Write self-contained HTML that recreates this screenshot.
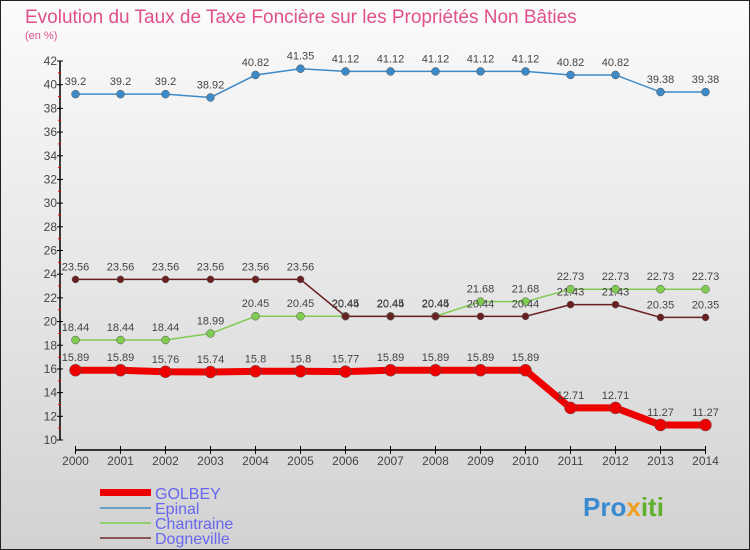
<!DOCTYPE html>
<html><head><meta charset="utf-8"><style>
body{margin:0}
svg{display:block;font-family:"Liberation Sans",sans-serif}
</style></head><body>
<svg width="750" height="550" viewBox="0 0 750 550">
<defs><linearGradient id="bg" x1="0" y1="0" x2="0" y2="1"><stop offset="0" stop-color="#fbfbfb"/><stop offset="1" stop-color="#d2d2d2"/></linearGradient></defs>
<rect x="0.5" y="0.5" width="749" height="549" fill="url(#bg)" stroke="#222"/>
<text x="25" y="23" font-size="19" fill="#e0508a">Evolution du Taux de Taxe Foncière sur les Propriétés Non Bâties</text>
<text x="25" y="39" font-size="11" fill="#e0508a">(en %)</text>
<g id="axes"></g>
<g id="series"></g>
<g>
<rect x="100" y="489" width="51" height="7" fill="#e00"/>
<line x1="100" y1="508" x2="151" y2="508" stroke="#6aa0c8" stroke-width="2"/>
<line x1="100" y1="523" x2="151" y2="523" stroke="#90d070" stroke-width="2"/>
<line x1="100" y1="538" x2="151" y2="538" stroke="#8a5555" stroke-width="2"/>
<text x="155" y="499" font-size="16" fill="#6666ee">GOLBEY</text>
<text x="155" y="514" font-size="16" fill="#6666ee">Epinal</text>
<text x="155" y="529" font-size="16" fill="#6666ee">Chantraine</text>
<text x="155" y="544" font-size="16" fill="#6666ee">Dogneville</text>
</g>
<text x="583" y="516" font-size="26" font-weight="bold" fill="#3a8ad0">Pro<tspan fill="#f0a020">x</tspan><tspan fill="#60b030">iti</tspan></text>
</svg>
<script>
const years=[2000,2001,2002,2003,2004,2005,2006,2007,2008,2009,2010,2011,2012,2013,2014];
const golbey=[15.89,15.89,15.76,15.74,15.8,15.8,15.77,15.89,15.89,15.89,15.89,12.71,12.71,11.27,11.27];
const epinal=[39.2,39.2,39.2,38.92,40.82,41.35,41.12,41.12,41.12,41.12,41.12,40.82,40.82,39.38,39.38];
const chantraine=[18.44,18.44,18.44,18.99,20.45,20.45,20.45,20.45,20.45,21.68,21.68,22.73,22.73,22.73,22.73];
const dogneville=[23.56,23.56,23.56,23.56,23.56,23.56,20.44,20.44,20.44,20.44,20.44,21.43,21.43,20.35,20.35];
const yTicks=[10,12,14,16,18,20,22,24,26,28,30,32,34,36,38,40,42];
const NS="http://www.w3.org/2000/svg";
const xS=i=>75.5+i*45;
const yS=v=>440-(v-10)*(379/32);
function mk(tag,attrs,parent){const e=document.createElementNS(NS,tag);for(const k in attrs)e.setAttribute(k,attrs[k]);parent.appendChild(e);return e;}
const axes=document.getElementById('axes');
let yl=mk('line',{x1:60,y1:yS(42),x2:60,y2:yS(10),stroke:'#000','stroke-width':1.5},axes);


yTicks.forEach(t=>{
 let l=mk('line',{x1:57,x2:63,y1:yS(t),y2:yS(t),stroke:'#000'},axes);
 
 
 let m=mk('line',{x1:58,x2:61,y1:yS(t+1),y2:yS(t+1),stroke:'#e00'},axes);
 if(t===42)m.setAttribute('visibility','hidden');
 
 
 let tx=mk('text',{x:57,y:yS(t)+4,'text-anchor':'end','font-size':12,fill:'#444'},axes);
 tx.textContent=t;
 
 
});
let xl=mk('line',{x1:xS(0),x2:xS(14),y1:450,y2:450,stroke:'#000','stroke-width':1.5},axes);


years.forEach((y,i)=>{
 let l=mk('line',{x1:xS(i),x2:xS(i),y1:446,y2:454,stroke:'#000'},axes);
 
 
 let tx=mk('text',{x:xS(i),y:465,'text-anchor':'middle','font-size':12,fill:'#444'},axes);
 tx.textContent=y;
 
 
});
const sg=document.getElementById('series');
function draw(name,vals,color,w,r){
 const g=mk('g',{},sg);
 
 
 const pl=mk('polyline',{points:vals.map((v,i)=>xS(i)+','+yS(v)).join(' '),fill:'none',stroke:color,'stroke-width':w},g);
 
 
 vals.forEach((v,i)=>{
  const c=mk('circle',{cx:xS(i),cy:yS(v),r:r,fill:color,stroke:'#555','stroke-width':0.5},g);
  
  
  const t=mk('text',{x:xS(i),y:yS(v)-9,'text-anchor':'middle','font-size':11,fill:'#444'},g);
  t.textContent=v;
  
  
 });
}
draw('epinal',epinal,'#3d8ac8',1.5,4);
draw('chantraine',chantraine,'#80cc50',1.5,4);
draw('dogneville',dogneville,'#6a2020',1.5,3.5);
draw('golbey',golbey,'#ee0000',7,6);
</script>
</body></html>
